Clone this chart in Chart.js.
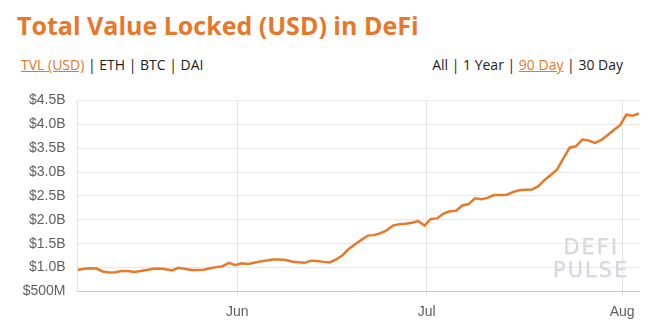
<!DOCTYPE html>
<html>
<head>
<meta charset="utf-8">
<script src="https://cdn.jsdelivr.net/npm/chart.js@4"></script>
<style>
  html, body { margin: 0; padding: 0; background: #fff; }
  body { width: 660px; height: 327px; position: relative; overflow: hidden; font-family: 'Open Sans', Lato, sans-serif; }
  .title { position: absolute; left: 17px; top: 13px; font-size: 25px; line-height: 25px; font-weight: 700; color: #e8772a; white-space: nowrap; }
  .tabs { position: absolute; top: 58px; font-size: 14px; line-height: 14px; color: #222; white-space: nowrap; }
  .tabs.left { left: 21px; }
  .tabs.right { right: 37px; }
  .tabs .on { color: #e8772a; text-decoration: underline; }
  .chart { position: absolute; left: 0; top: 80px; width: 660px; height: 247px; }
  .mark { position: absolute; left: 541px; width: 100px; text-align: center; font-family: 'DejaVu Sans', sans-serif; font-size: 21px; line-height: 21px; letter-spacing: 2px; color: #d6d6de; text-shadow: 1px 1px 0 #f0f0f3; }
</style>
</head>
<body>
<div class="title">Total Value Locked (USD) in DeFi</div>
<div class="tabs left"><span class="on">TVL (USD)</span> | ETH | BTC | DAI</div>
<div class="tabs right">All | 1 Year | <span class="on">90 Day</span> | 30 Day</div>
<div class="chart"><canvas id="tvlChart"></canvas></div>
<div class="mark" style="top:237px">DEFI</div>
<div class="mark" style="top:260px">PULSE</div>
<script>
// daily TVL in billions USD, first point 6 May 2020
const DAY = 86400000;
const firstDay = Date.UTC(2020, 4, 6, 16);
const tvl = [
  0.95, 0.975, 0.985, 0.98, 0.92, 0.90, 0.905, 0.93, 0.93, 0.91,
  0.93, 0.95, 0.975, 0.98, 0.965, 0.94, 0.995, 0.975, 0.95, 0.95,
  0.955, 0.985, 1.01, 1.03, 1.10, 1.05, 1.09, 1.075, 1.10, 1.13,
  1.15, 1.17, 1.17, 1.16, 1.13, 1.11, 1.10, 1.145, 1.14, 1.12,
  1.11, 1.17, 1.26, 1.39, 1.49, 1.58, 1.67, 1.68, 1.72, 1.78,
  1.88, 1.91, 1.92, 1.94, 1.975, 1.88, 2.02, 2.03, 2.13, 2.18,
  2.19, 2.30, 2.33, 2.45, 2.43, 2.46, 2.52, 2.52, 2.52, 2.58,
  2.62, 2.63, 2.635, 2.70, 2.83, 2.94, 3.05, 3.28, 3.51, 3.54,
  3.68, 3.66, 3.61, 3.67, 3.77, 3.88, 3.98, 4.20, 4.18, 4.225
];
const monthTicks = [Date.UTC(2020, 5, 1), Date.UTC(2020, 6, 1), Date.UTC(2020, 7, 1)];
const monthLabels = ['Jun', 'Jul', 'Aug'];
const yTicks = [0.5, 1.0, 1.5, 2.0, 2.5, 3.0, 3.5, 4.0, 4.5];

const points = tvl.map((v, i) => ({ x: firstDay + i * DAY, y: v }));
const tickFont = { family: "'Liberation Sans', Arial, sans-serif", size: 14 };

const ctx = document.getElementById('tvlChart').getContext('2d');
new Chart(ctx, {
  type: 'line',
  data: {
    datasets: [{
      label: 'TVL (USD)',
      data: points,
      borderColor: '#e8792a',
      borderWidth: 2.5,
      pointRadius: 0,
      tension: 0,
      fill: false
    }]
  },
  options: {
    responsive: true,
    maintainAspectRatio: false,
    animation: false,
    layout: { padding: { top: 17, right: 21, left: 0, bottom: 0 } },
    plugins: { legend: { display: false }, tooltip: { enabled: false } },
    scales: {
      x: {
        type: 'linear',
        min: points[0].x,
        max: points[points.length - 1].x,
        afterFit: (s) => { s.height = 35.5; },
        afterBuildTicks: (s) => { s.ticks = monthTicks.map(v => ({ value: v })); },
        ticks: {
          font: tickFont,
          color: '#5f5f5f',
          padding: 7,
          maxRotation: 0,
          callback: (v) => monthLabels[monthTicks.indexOf(v)]
        },
        grid: { color: '#e3e3e3', tickLength: 5 },
        border: { color: '#c9c9c9' }
      },
      y: {
        min: 0.5,
        max: 4.5,
        afterFit: (s) => { s.width = 77.5; },
        afterBuildTicks: (s) => { s.ticks = yTicks.map(v => ({ value: v })); },
        ticks: {
          font: tickFont,
          color: '#5f5f5f',
          padding: 12,
          callback: (v) => v === 0.5 ? '$500M' : '$' + v.toFixed(1) + 'B'
        },
        grid: { color: '#e8e8e8', drawTicks: false },
        border: { color: '#e3e3e3' }
      }
    }
  }
});
</script>
</body>
</html>
